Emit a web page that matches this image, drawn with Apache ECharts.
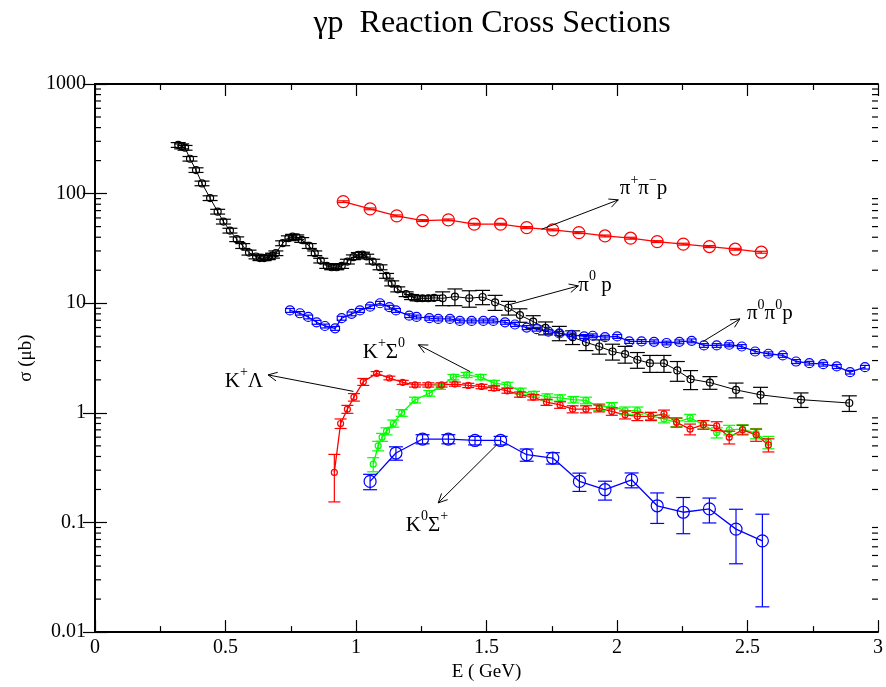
<!DOCTYPE html>
<html>
<head>
    <meta charset="utf-8" />
    <title>gamma p cross sections</title>
    <script src="https://cdn.jsdelivr.net/npm/echarts@6/dist/echarts.min.js"></script>
</head>
<body style="margin:0;background:#fff">
    <div id="main" style="width: 886px;height:687px;"></div>
    <script type="text/javascript">
        // pi0 p (black)
        var pi0pE = [0.319, 0.332, 0.345, 0.364, 0.387, 0.410, 0.441, 0.470, 0.492, 0.517, 0.543, 0.566, 0.590, 0.617, 0.632, 0.648, 0.664, 0.680, 0.693, 0.719, 0.741, 0.757, 0.773, 0.792, 0.821, 0.842, 0.865, 0.888, 0.907, 0.926, 0.945, 0.967, 0.990, 1.009, 1.025, 1.041, 1.064, 1.092, 1.117, 1.137, 1.160, 1.192, 1.213, 1.235, 1.255, 1.277, 1.299, 1.332, 1.379, 1.434, 1.485, 1.533, 1.584, 1.628, 1.679, 1.726, 1.779, 1.830, 1.881, 1.932, 1.983, 2.031, 2.078, 2.126, 2.180, 2.231, 2.282, 2.356, 2.456, 2.550, 2.705, 2.890];
        var pi0pS = [278, 270, 262, 208, 164, 124, 91, 68.5, 55.6, 46, 38.4, 33.3, 29, 26.7, 25.8, 25.8, 26.3, 27.2, 28.6, 35.3, 39.2, 40.5, 40, 37.8, 33.3, 28.6, 24.5, 21.9, 21.3, 21.3, 21.9, 24, 26.3, 27.6, 27.8, 26.7, 24, 21.3, 17.8, 15.2, 13.4, 12.1, 11.4, 11.1, 11.1, 11.1, 11.2, 11.1, 11.5, 11.1, 11.4, 10.2, 9.1, 7.8, 6.8, 5.95, 5.35, 4.9, 4.4, 4.03, 3.63, 3.44, 3.05, 2.84, 2.84, 2.44, 2.03, 1.89, 1.62, 1.46, 1.32, 1.23];
        var pi0pD = [14, 14, 13, 10, 8, 6, 4.5, 3.4, 2.8, 2.3, 1.9, 1.7, 1.5, 1.3, 1.3, 1.3, 1.3, 1.4, 1.4, 1.8, 2.0, 2.0, 2.0, 1.9, 1.7, 1.4, 1.2, 1.1, 1.1, 1.1, 1.1, 1.2, 1.3, 1.4, 1.4, 1.3, 1.2, 1.1, 0.9, 0.8, 0.7, 0.6, 0.6, 0.6, 0.6, 0.6, 0.6, 1.6, 2.0, 1.9, 1.7, 1.6, 1.3, 1.1, 0.9, 0.8, 0.8, 0.7, 0.7, 0.6, 0.6, 0.6, 0.5, 0.5, 0.5, 0.5, 0.4, 0.25, 0.25, 0.25, 0.2, 0.2];

        // pi+ pi- p (red, big circles)
        var pippimE = [0.951, 1.054, 1.156, 1.255, 1.354, 1.453, 1.554, 1.654, 1.754, 1.854, 1.954, 2.052, 2.154, 2.254, 2.354, 2.453, 2.553];
        var pippimS = [84.5, 72.6, 62.7, 56.8, 57.6, 52.6, 52.6, 49, 46.7, 44.1, 41.1, 39.2, 36.5, 34.6, 32.9, 31.1, 29.2];
        var pippimD = [1.5, 1.3, 1.2, 1.1, 1.1, 1.0, 1.0, 1.0, 0.9, 0.9, 0.8, 0.8, 0.7, 0.7, 0.7, 0.6, 0.6];

        // pi0 pi0 p (blue)
        var pi0pi0E = [0.747, 0.785, 0.817, 0.849, 0.881, 0.920, 0.945, 0.983, 1.015, 1.054, 1.092, 1.128, 1.153, 1.204, 1.232, 1.281, 1.315, 1.360, 1.398, 1.443, 1.488, 1.526, 1.571, 1.609, 1.654, 1.692, 1.737, 1.779, 1.826, 1.874, 1.907, 1.954, 2.001, 2.047, 2.094, 2.142, 2.190, 2.239, 2.286, 2.333, 2.382, 2.430, 2.478, 2.529, 2.580, 2.635, 2.686, 2.737, 2.790, 2.842, 2.893, 2.950];
        var pi0pi0S = [8.6, 8.1, 7.5, 6.7, 6.2, 5.9, 7.3, 8.0, 8.6, 9.3, 10.0, 9.2, 8.6, 7.7, 7.5, 7.3, 7.2, 7.2, 6.9, 6.9, 6.9, 6.9, 6.7, 6.4, 6.0, 5.8, 5.5, 5.3, 5.15, 4.98, 5.05, 4.9, 4.98, 4.48, 4.48, 4.45, 4.34, 4.45, 4.54, 4.12, 4.12, 4.18, 4.03, 3.63, 3.46, 3.34, 2.94, 2.84, 2.78, 2.65, 2.35, 2.61];
        var pi0pi0D = [0.35, 0.3, 0.3, 0.27, 0.25, 0.24, 0.3, 0.32, 0.35, 0.37, 0.4, 0.37, 0.35, 0.3, 0.3, 0.3, 0.3, 0.3, 0.28, 0.28, 0.28, 0.28, 0.27, 0.26, 0.25, 0.23, 0.22, 0.21, 0.2, 0.2, 0.2, 0.2, 0.2, 0.18, 0.18, 0.18, 0.17, 0.18, 0.18, 0.16, 0.16, 0.17, 0.16, 0.15, 0.14, 0.13, 0.12, 0.11, 0.11, 0.11, 0.09, 0.1];

        // K+ Sigma0 (green)
        var kpsigE = [1.066, 1.085, 1.100, 1.117, 1.143, 1.175, 1.226, 1.281, 1.322, 1.373, 1.424, 1.478, 1.529, 1.580, 1.631, 1.682, 1.733, 1.782, 1.833, 1.881, 1.932, 1.980, 2.031, 2.078, 2.130, 2.180, 2.228, 2.280, 2.331, 2.382, 2.430, 2.481, 2.533, 2.580];
        var kpsigS = [0.34, 0.50, 0.60, 0.68, 0.80, 1.00, 1.31, 1.51, 1.74, 2.12, 2.22, 2.12, 1.87, 1.80, 1.58, 1.48, 1.40, 1.37, 1.32, 1.30, 1.13, 1.16, 1.05, 1.05, 0.94, 0.88, 0.82, 0.90, 0.78, 0.66, 0.70, 0.71, 0.65, 0.54];
        var kpsigD = [0.05, 0.05, 0.05, 0.05, 0.06, 0.07, 0.08, 0.09, 0.1, 0.12, 0.12, 0.12, 0.11, 0.1, 0.1, 0.09, 0.09, 0.09, 0.09, 0.09, 0.08, 0.08, 0.08, 0.08, 0.07, 0.07, 0.07, 0.07, 0.07, 0.07, 0.07, 0.07, 0.07, 0.07];

        // K+ Lambda (red, small)
        var kplamE = [0.917, 0.941, 0.967, 0.992, 1.028, 1.079, 1.128, 1.179, 1.226, 1.277, 1.328, 1.379, 1.430, 1.481, 1.529, 1.580, 1.628, 1.679, 1.730, 1.782, 1.830, 1.881, 1.932, 1.980, 2.031, 2.078, 2.130, 2.180, 2.228, 2.280, 2.331, 2.382, 2.430, 2.481, 2.533, 2.580];
        var kplamS = [0.286, 0.80, 1.08, 1.39, 1.92, 2.29, 2.08, 1.90, 1.80, 1.80, 1.80, 1.83, 1.78, 1.74, 1.68, 1.59, 1.47, 1.39, 1.25, 1.18, 1.08, 1.08, 1.10, 1.03, 0.96, 0.93, 0.93, 0.98, 0.82, 0.71, 0.78, 0.76, 0.60, 0.70, 0.63, 0.51];
        var kplamD = [0.132, 0.08, 0.09, 0.11, 0.14, 0.09, 0.08, 0.08, 0.08, 0.08, 0.08, 0.08, 0.08, 0.08, 0.08, 0.08, 0.08, 0.08, 0.08, 0.08, 0.08, 0.08, 0.08, 0.08, 0.08, 0.08, 0.08, 0.08, 0.08, 0.08, 0.07, 0.07, 0.08, 0.07, 0.08, 0.07];

        // K0 Sigma+ (blue, big)
        var k0sigE = [1.054, 1.153, 1.255, 1.354, 1.456, 1.554, 1.654, 1.754, 1.856, 1.954, 2.056, 2.154, 2.254, 2.354, 2.456, 2.557];
        var k0sigS = [0.237, 0.43, 0.577, 0.577, 0.56, 0.56, 0.415, 0.387, 0.237, 0.199, 0.245, 0.142, 0.124, 0.133, 0.087, 0.068];
        var k0sigD = [0.038, 0.06, 0.055, 0.055, 0.05, 0.05, 0.053, 0.046, 0.045, 0.039, 0.038, 0.044, 0.045, 0.034, 0.045, 0.051];

        // y minor ticks (2..9 inside each decade)
        var minorMult = [2, 3, 4, 5, 6, 7, 8, 9];
        var decades = [0.01, 0.1, 1, 10, 100];

        var serif = 'Liberation Serif';
        var myChart = echarts.init(document.getElementById('main'));

        function pairs(E, S, D) {
            var out = [];
            for (var i = 0; i < E.length; i++) out.push(D ? [E[i], S[i], D[i]] : [E[i], S[i]]);
            return out;
        }

        function lineSeries(E, S, color, w) {
            return {
                type: 'line', data: pairs(E, S), showSymbol: false, symbol: 'none',
                lineStyle: { color: color, width: w }, silent: true, animation: false, z: 2
            };
        }

        function errSeries(E, S, D, color, r, cap) {
            return {
                type: 'custom', data: pairs(E, S, D), animation: false, silent: true, z: 3,
                renderItem: function (params, api) {
                    var x = api.value(0), y = api.value(1), d = api.value(2);
                    var c = api.coord([x, y]);
                    var t = api.coord([x, y + d]);
                    var b = api.coord([x, Math.max(y - d, 0.005)]);
                    var st = { stroke: color, lineWidth: 1.2, fill: null };
                    return {
                        type: 'group', children: [
                            { type: 'line', shape: { x1: c[0], y1: t[1], x2: c[0], y2: b[1] }, style: st },
                            { type: 'line', shape: { x1: c[0] - cap, y1: t[1], x2: c[0] + cap, y2: t[1] }, style: st },
                            { type: 'line', shape: { x1: c[0] - cap, y1: b[1], x2: c[0] + cap, y2: b[1] }, style: st },
                            { type: 'circle', shape: { cx: c[0], cy: c[1], r: r }, style: { stroke: color, lineWidth: 1.2, fill: null } }
                        ]
                    };
                }
            };
        }

        var minorData = [];
        decades.forEach(function (d) { minorMult.forEach(function (m) { minorData.push([0, d * m]); }); });

        var tickFont = { color: '#000', fontFamily: serif, fontSize: 20 };

        var option = {
            backgroundColor: '#fff',
            animation: false,
            title: {
                text: 'γp  Reaction Cross Sections',
                left: 487, top: 3, textAlign: 'center',
                textStyle: { fontFamily: serif, fontSize: 32, fontWeight: 'normal', color: '#000' }
            },
            grid: { left: 95, right: 8, top: 84, bottom: 54 },
            xAxis: [{
                type: 'value', min: 0, max: 3, interval: 0.5, position: 'bottom',
                name: 'E ( GeV)', nameLocation: 'middle', nameGap: 25,
                nameTextStyle: { fontFamily: serif, fontSize: 19, color: '#000' },
                axisLine: { lineStyle: { color: '#000', width: 2 } },
                axisTick: { inside: true, length: 12, lineStyle: { color: '#000', width: 1.2 } },
                minorTick: { show: true, splitNumber: 2, length: 6, lineStyle: { color: '#000', width: 1.2 } },
                axisLabel: Object.assign({ margin: 6 }, tickFont),
                splitLine: { show: false }
            }, {
                type: 'value', min: 0, max: 3, interval: 0.5, position: 'top',
                axisLine: { lineStyle: { color: '#000', width: 2 } },
                axisTick: { inside: true, length: 12, lineStyle: { color: '#000', width: 1.2 } },
                minorTick: { show: true, splitNumber: 2, length: 6, lineStyle: { color: '#000', width: 1.2 } },
                axisLabel: { show: false },
                splitLine: { show: false }
            }],
            yAxis: [{
                type: 'log', logBase: 10, min: 0.01, max: 1000, position: 'left',
                name: 'σ (μb)', nameLocation: 'middle', nameGap: 55, nameRotate: 90,
                nameTextStyle: { fontFamily: serif, fontSize: 19, color: '#000' },
                axisLine: { lineStyle: { color: '#000', width: 2 } },
                axisTick: { inside: true, length: 12, lineStyle: { color: '#000', width: 1.2 } },
                axisLabel: Object.assign({ margin: 9, formatter: function (v) { return String(+v.toPrecision(6)); } }, tickFont),
                splitLine: { show: false }
            }, {
                type: 'log', logBase: 10, min: 0.01, max: 1000, position: 'right',
                axisLine: { lineStyle: { color: '#000', width: 2 } },
                axisTick: { inside: true, length: 12, lineStyle: { color: '#000', width: 1.2 } },
                axisLabel: { show: false },
                splitLine: { show: false }
            }],
            series: [
                lineSeries(pi0pE, pi0pS, '#000', 1),
                lineSeries(pippimE, pippimS, '#ff0000', 1.3),
                lineSeries(pi0pi0E, pi0pi0S, '#0000ff', 1.3),
                lineSeries(kpsigE, kpsigS, '#00ff00', 1.3),
                lineSeries(kplamE, kplamS, '#ff0000', 1.3),
                lineSeries(k0sigE, k0sigS, '#0000ff', 1.3),
                errSeries(pi0pE, pi0pS, pi0pD, '#000', 3.5, 7.5),
                errSeries(pippimE, pippimS, pippimD, '#ff0000', 6, 6),
                errSeries(pi0pi0E, pi0pi0S, pi0pi0D, '#0000ff', 4.5, 5),
                errSeries(kpsigE, kpsigS, kpsigD, '#00ff00', 3, 6),
                errSeries(kplamE, kplamS, kplamD, '#ff0000', 3, 6),
                errSeries(k0sigE, k0sigS, k0sigD, '#0000ff', 6, 7),
                {
                    type: 'custom', data: minorData, silent: true, animation: false, z: 5,
                    renderItem: function (params, api) {
                        var l = api.coord([0, api.value(1)]);
                        var r = api.coord([3, api.value(1)]);
                        var st = { stroke: '#000', lineWidth: 1.2 };
                        return {
                            type: 'group', children: [
                                { type: 'line', shape: { x1: l[0], y1: l[1], x2: l[0] + 6, y2: l[1] }, style: st },
                                { type: 'line', shape: { x1: r[0], y1: r[1], x2: r[0] - 6, y2: r[1] }, style: st }
                            ]
                        };
                    }
                }
            ]
        };
        myChart.setOption(option);

        // annotations: [text, textE, textS, align, arrowFrom, arrowTo]
        var notes = [
            ['{b|π}{s|+}{b|π}{s|−}{b|p}', 2.011, 117, 'left', [1.711, 47.3], [2.005, 87.7]],
            ['{b|π}{s|0}{b| p}', 1.852, 15.4, 'left', [1.584, 9.66], [1.852, 14.4]],
            ['{b|π}{s|0}{b|π}{s|0}{b|p}', 2.498, 8.5, 'left', [2.330, 4.48], [2.471, 7.2]],
            ['{b|K}{s|+}{b|Σ}{s|0}', 1.188, 3.76, 'right', [1.437, 2.38], [1.239, 4.18]],
            ['{b|K}{s|+}{b|Λ}', 0.644, 2.05, 'right', [0.990, 1.57], [0.663, 2.22]],
            ['{b|K}{s|0}{b|Σ}{s|+}', 1.272, 0.0995, 'center', [1.539, 0.51], [1.315, 0.151]]
        ];
        var rich = {
            b: { fontFamily: serif, fontSize: 21, color: '#000', lineHeight: 26, verticalAlign: 'bottom' },
            s: { fontFamily: serif, fontSize: 14, color: '#000', lineHeight: 26, verticalAlign: 'top' }
        };
        var graphics = [];
        notes.forEach(function (n) {
            var tp = myChart.convertToPixel({ seriesIndex: 0 }, [n[1], n[2]]);
            graphics.push({
                type: 'text', x: tp[0], y: tp[1], z: 10,
                style: { text: n[0], rich: rich, align: n[3], verticalAlign: 'middle' }
            });
            var a = myChart.convertToPixel({ seriesIndex: 0 }, n[4]);
            var b = myChart.convertToPixel({ seriesIndex: 0 }, n[5]);
            var ang = Math.atan2(b[1] - a[1], b[0] - a[0]);
            var hl = 10, hw = 0.45;
            graphics.push({
                type: 'line', z: 10, shape: { x1: a[0], y1: a[1], x2: b[0], y2: b[1] },
                style: { stroke: '#000', lineWidth: 1 }
            });
            graphics.push({
                type: 'polyline', z: 10,
                shape: {
                    points: [
                        [b[0] - hl * Math.cos(ang - hw), b[1] - hl * Math.sin(ang - hw)],
                        [b[0], b[1]],
                        [b[0] - hl * Math.cos(ang + hw), b[1] - hl * Math.sin(ang + hw)]
                    ]
                },
                style: { stroke: '#000', lineWidth: 1, fill: null }
            });
        });
        myChart.setOption({ graphic: graphics });
    </script>
</body>
</html>
